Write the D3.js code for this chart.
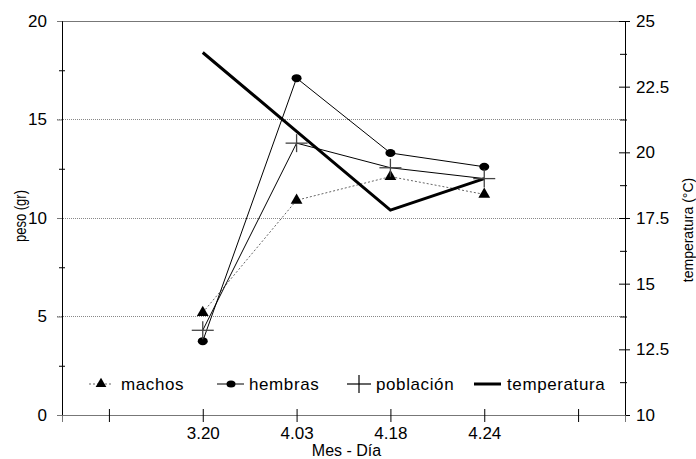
<!DOCTYPE html>
<html>
<head>
<meta charset="utf-8">
<script src="https://cdn.jsdelivr.net/npm/d3@7"></script>
<style>
  html, body { margin: 0; padding: 0; background: #fff; }
  svg text { font-family: "Liberation Sans", Arial, sans-serif; fill: #000; }
</style>
</head>
<body>
<svg id="chart" width="696" height="459"></svg>
<script>
// Category positions along the x axis (first and last are unlabeled padding ticks)
const positions = [0, 1, 2, 3, 4, 5];
const tickLabels = ["", "3.20", "4.03", "4.18", "4.24", ""];
const fechas = ["3.20", "4.03", "4.18", "4.24"];
const fechaPos = [1, 2, 3, 4];

// Weight (g) per sampling date
const machos = [5.2, 10.9, 12.1, 11.2];
const hembras = [3.75, 17.1, 13.3, 12.6];
const poblacion = [4.3, 13.8, 12.55, 12.0];
// Water temperature (°C)
const temperatura = [23.8, 20.8, 17.8, 19.0];

const pesoTicks = [0, 5, 10, 15, 20];
const pesoMinor = [2.5, 7.5, 12.5, 17.5];
const tempTicks = [10, 12.5, 15, 17.5, 20, 22.5, 25];
const tempMinor = [11.25, 13.75, 16.25, 18.75, 21.25, 23.75];

const svg = d3.select("#chart");
const plotL = 62, plotR = 625, plotT = 21, plotB = 415;
const fs = 16;

const x = d3.scaleLinear().domain([-0.5, 5.5]).range([plotL, plotR]);
const yL = d3.scaleLinear().domain([0, 20]).range([plotB, plotT]);
const yR = d3.scaleLinear().domain([10, 25]).range([plotB, plotT]);

// Horizontal reference lines at the major weight ticks
svg.append("g").selectAll("line").data(pesoTicks).join("line")
  .attr("x1", plotL - 5).attr("x2", plotR)
  .attr("y1", d => yL(d)).attr("y2", d => yL(d))
  .attr("stroke", d => (d === 0 || d === 20) ? "#777" : "#888")
  .attr("stroke-width", 1)
  .attr("stroke-dasharray", d => (d === 0 || d === 20) ? null : "1,1")
  .attr("shape-rendering", "crispEdges");

// Left axis (peso)
const gL = svg.append("g").attr("transform", `translate(${plotL},0)`)
  .call(d3.axisLeft(yL).tickValues(pesoTicks).tickSize(5).tickPadding(10));
gL.select(".domain").attr("stroke", "#000");
gL.selectAll(".tick line").attr("stroke", "#777");
gL.selectAll(".tick text").attr("font-size", 17).attr("font-family", "Liberation Sans, Arial, sans-serif");

const gLm = svg.append("g").attr("transform", `translate(${plotL},0)`)
  .call(d3.axisLeft(yL).tickValues(pesoMinor).tickSize(3).tickFormat(""));
gLm.select(".domain").remove();
gLm.selectAll(".tick line").attr("x2", -3).attr("x1", 3).attr("stroke", "#000");

// Right axis (temperatura)
const gR = svg.append("g").attr("transform", `translate(${plotR},0)`)
  .call(d3.axisRight(yR).tickValues(tempTicks).tickSize(5).tickPadding(6).tickFormat(d => String(d)));
gR.select(".domain").attr("stroke", "#000");
gR.selectAll(".tick line").attr("x1", -6).attr("x2", 5).attr("stroke", "#000");
gR.selectAll(".tick text").attr("font-size", 17).attr("font-family", "Liberation Sans, Arial, sans-serif");

const gRm = svg.append("g").attr("transform", `translate(${plotR},0)`)
  .call(d3.axisRight(yR).tickValues(tempMinor).tickSize(2).tickFormat(""));
gRm.select(".domain").remove();
gRm.selectAll(".tick line").attr("x1", -5).attr("x2", 2).attr("stroke", "#000");

// Bottom axis (Mes - Día)
const gB = svg.append("g").attr("transform", `translate(0,${plotB})`)
  .call(d3.axisBottom(x).tickValues(positions).tickFormat(i => tickLabels[i]).tickSize(7).tickPadding(5));
gB.select(".domain").attr("stroke", "#777");
gB.selectAll(".tick line").attr("y1", -6).attr("stroke", "#000");
gB.selectAll(".tick text").attr("font-size", 17).attr("font-family", "Liberation Sans, Arial, sans-serif");

// Axis titles
svg.append("text").attr("x", (plotL + plotR) / 2 + 3).attr("y", 456)
  .attr("text-anchor", "middle").attr("font-size", fs).text("Mes - Día");
svg.append("text").attr("transform", "translate(26,216) rotate(-90)")
  .attr("text-anchor", "middle").attr("font-size", 16)
  .attr("textLength", 52).attr("lengthAdjust", "spacingAndGlyphs").text("peso (gr)");
svg.append("text").attr("transform", "translate(693,230) rotate(-90)")
  .attr("text-anchor", "middle").attr("font-size", 14).text("temperatura (°C)");

// Series lines
const lineL = d3.line().x((d, i) => x(fechaPos[i])).y(d => yL(d));
const lineR = d3.line().x((d, i) => x(fechaPos[i])).y(d => yR(d));

svg.append("path").datum(machos).attr("d", lineL).attr("fill", "none")
  .attr("stroke", "#666").attr("stroke-width", 1).attr("stroke-dasharray", "2,2");
svg.append("path").datum(hembras).attr("d", lineL).attr("fill", "none")
  .attr("stroke", "#000").attr("stroke-width", 1);
svg.append("path").datum(poblacion).attr("d", lineL).attr("fill", "none")
  .attr("stroke", "#000").attr("stroke-width", 1);
svg.append("path").datum(temperatura).attr("d", lineR).attr("fill", "none")
  .attr("stroke", "#000").attr("stroke-width", 3);

// Markers
const tri = d3.symbol().type(d3.symbolTriangle).size(60);
svg.append("g").selectAll("path").data(machos).join("path")
  .attr("d", tri).attr("transform", (d, i) => `translate(${x(fechaPos[i])},${yL(d)})`)
  .attr("fill", "#000");

svg.append("g").selectAll("ellipse").data(hembras).join("ellipse")
  .attr("cx", (d, i) => x(fechaPos[i])).attr("cy", d => yL(d))
  .attr("rx", 5).attr("ry", 4).attr("fill", "#000");

const cross = svg.append("g").selectAll("g").data(poblacion).join("g")
  .attr("transform", (d, i) => `translate(${x(fechaPos[i])},${yL(d)})`);
cross.append("line").attr("x1", -11).attr("x2", 11).attr("stroke", "#444").attr("stroke-width", 1.3);
cross.append("line").attr("y1", -9).attr("y2", 9).attr("stroke", "#444").attr("stroke-width", 1.3);

// Legend
const ly = 384;
const lg = svg.append("g");
// machos
lg.append("line").attr("x1", 89).attr("x2", 113).attr("y1", ly).attr("y2", ly)
  .attr("stroke", "#666").attr("stroke-dasharray", "2,2");
lg.append("path").attr("d", d3.symbol().type(d3.symbolTriangle).size(50)())
  .attr("transform", `translate(101,${ly})`).attr("fill", "#000");
lg.append("text").attr("x", 121).attr("y", ly + 6).attr("font-size", 17).attr("letter-spacing", 0.6).text("machos");
// hembras
lg.append("line").attr("x1", 217).attr("x2", 244).attr("y1", ly).attr("y2", ly).attr("stroke", "#000");
lg.append("ellipse").attr("cx", 231).attr("cy", ly).attr("rx", 4.5).attr("ry", 3.5).attr("fill", "#000");
lg.append("text").attr("x", 249).attr("y", ly + 6).attr("font-size", 17).attr("letter-spacing", 0.6).text("hembras");
// población
lg.append("line").attr("x1", 347).attr("x2", 371).attr("y1", ly).attr("y2", ly).attr("stroke", "#000").attr("stroke-width", 1.2);
lg.append("line").attr("x1", 359).attr("x2", 359).attr("y1", ly - 9).attr("y2", ly + 9).attr("stroke", "#000").attr("stroke-width", 1.2);
lg.append("text").attr("x", 376).attr("y", ly + 6).attr("font-size", 17).attr("letter-spacing", 0.6).text("población");
// temperatura
lg.append("line").attr("x1", 474).attr("x2", 501).attr("y1", ly).attr("y2", ly).attr("stroke", "#000").attr("stroke-width", 3);
lg.append("text").attr("x", 507).attr("y", ly + 6).attr("font-size", 17).attr("letter-spacing", 0.6).text("temperatura");
</script>
</body>
</html>
